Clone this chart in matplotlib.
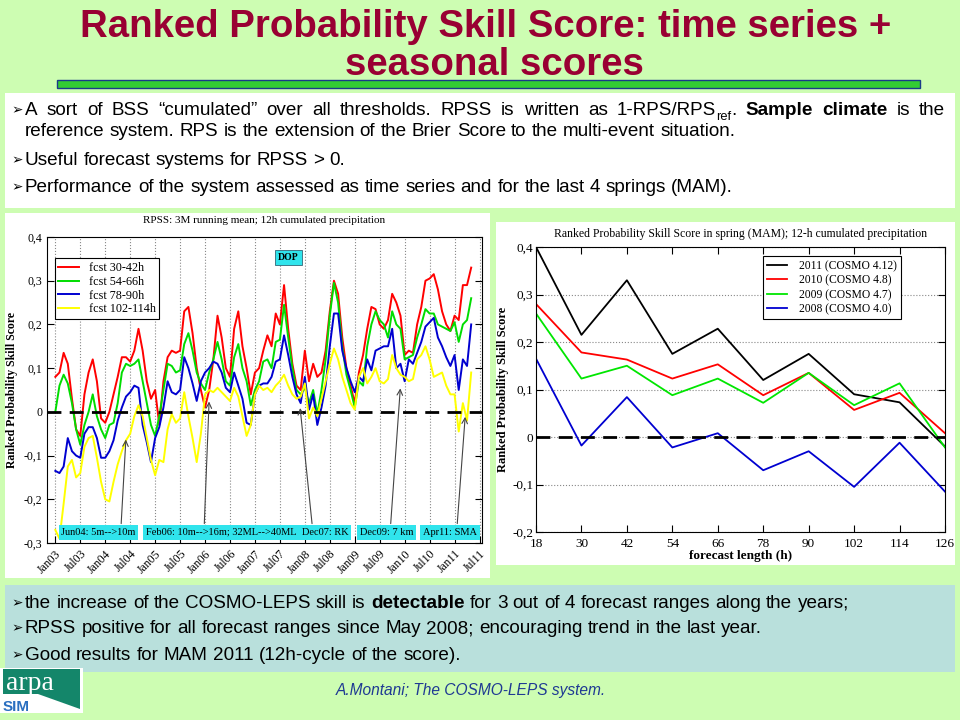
import numpy as np
import pandas as pd
import matplotlib
matplotlib.use("Agg")
import matplotlib.pyplot as plt
from matplotlib.patches import Rectangle, Polygon
from matplotlib.transforms import IdentityTransform
from matplotlib.ticker import FuncFormatter

# ---- data: left chart, RPSS 3M running mean, monthly from Jan03 ----
start_month = "2003-01-01"
red = [0.08, 0.09, 0.135, 0.11, 0.03, -0.04, -0.055, 0.04, 0.09, 0.12,
       0.07, -0.015, -0.025, 0.0, 0.04, 0.08, 0.125, 0.125, 0.115, 0.14,
       0.19, 0.14, 0.07, 0.03, 0.05, -0.03, 0.07, 0.125, 0.14, 0.135,
       0.14, 0.23, 0.24, 0.18, 0.1, 0.05, 0.01, 0.05, 0.12, 0.22,
       0.17, 0.1, 0.08, 0.19, 0.23, 0.15, 0.1, 0.04, 0.09, 0.1,
       0.14, 0.175, 0.15, 0.225, 0.2, 0.29, 0.19, 0.11, 0.06, 0.05,
       0.14, 0.07, 0.11, 0.08, 0.09, 0.14, 0.23, 0.3, 0.27, 0.17,
       0.1, 0.06, 0.02, 0.09, 0.13, 0.19, 0.24, 0.235, 0.2, 0.19,
       0.21, 0.27, 0.25, 0.22, 0.13, 0.14, 0.135, 0.2, 0.24, 0.3,
       0.305, 0.315, 0.28, 0.23, 0.2, 0.185, 0.22, 0.21, 0.29, 0.29, 0.33]
green = [0.0, 0.06, 0.085, 0.065, 0.02, -0.04, -0.075, -0.03, 0.0, 0.04,
         -0.01, -0.04, -0.06, -0.03, -0.025, 0.02, 0.09, 0.11, 0.105, 0.11,
         0.12, 0.07, 0.02, -0.03, -0.055, -0.01, 0.05, 0.11, 0.105, 0.09,
         0.095, 0.155, 0.18, 0.14, 0.09, 0.065, 0.05, 0.09, 0.12, 0.16,
         0.12, 0.07, 0.06, 0.125, 0.155, 0.1, 0.07, 0.015, 0.05, 0.07,
         0.115, 0.12, 0.1, 0.16, 0.165, 0.245, 0.17, 0.1, 0.05, 0.04,
         0.055, 0.02, 0.05, -0.005, 0.05, 0.12, 0.22, 0.295, 0.25, 0.15,
         0.085, 0.05, 0.01, 0.07, 0.06, 0.15, 0.2, 0.23, 0.21, 0.2,
         0.17, 0.23, 0.2, 0.19, 0.12, 0.125, 0.13, 0.17, 0.2, 0.235,
         0.225, 0.225, 0.2, 0.195, 0.19, 0.185, 0.205, 0.16, 0.2, 0.21, 0.26]
blue = [-0.135, -0.14, -0.125, -0.06, -0.09, -0.1, -0.105, -0.05, -0.035, -0.035,
        -0.06, -0.105, -0.105, -0.09, -0.065, -0.02, 0.01, 0.035, 0.045, 0.06,
        0.055, -0.03, -0.07, -0.115, -0.06, -0.035, 0.01, 0.07, 0.045, 0.04,
        0.05, 0.125, 0.1, 0.065, 0.025, 0.07, 0.09, 0.1, 0.115, 0.11,
        0.09, 0.055, 0.045, 0.09, 0.06, 0.03, -0.025, -0.03, 0.04, 0.06,
        0.065, 0.065, 0.08, 0.115, 0.12, 0.175, 0.13, 0.08, 0.04, 0.02,
        0.08, 0.005, 0.04, -0.03, 0.01, 0.06, 0.15, 0.225, 0.225, 0.14,
        0.1, 0.07, 0.045, 0.08, 0.07, 0.12, 0.095, 0.14, 0.145, 0.15,
        0.15, 0.19, 0.1, 0.11, 0.07, 0.12, 0.11, 0.135, 0.16, 0.195,
        0.205, 0.215, 0.17, 0.15, 0.125, 0.105, 0.13, 0.05, 0.12, 0.105, 0.2]
yellow = [-0.27, -0.29, -0.21, -0.125, -0.11, -0.15, -0.14, -0.08, -0.06, -0.055,
          -0.105, -0.16, -0.2, -0.205, -0.16, -0.12, -0.09, -0.065, -0.05, -0.01,
          0.015, -0.01, -0.06, -0.11, -0.145, -0.11, -0.115, -0.04, -0.005, -0.025,
          -0.015, 0.045, -0.01, -0.06, -0.115, -0.05, 0.04, 0.05, 0.045, 0.055,
          0.045, 0.035, 0.025, 0.055, 0.035, -0.01, -0.055, -0.03, 0.04, 0.06,
          0.05, 0.055, 0.045, 0.06, 0.07, 0.085, 0.06, 0.04, 0.03, 0.035,
          0.065, -0.015, 0.01, -0.01, 0.03, 0.07, 0.11, 0.145, 0.12, 0.08,
          0.05, 0.02, 0.005, 0.08, 0.1, 0.065, 0.08, 0.1, 0.07, 0.065,
          0.075, 0.13, 0.1, 0.085, 0.08, 0.07, 0.075, 0.12, 0.13, 0.15,
          0.12, 0.08, 0.085, 0.09, 0.06, 0.04, 0.04, -0.045, 0.02, -0.02, 0.09]
ts_labels = ["fcst 30-42h", "fcst 54-66h", "fcst 78-90h", "fcst 102-114h"]

# model changes marked on the time series
events = ["Jun04: 5m-->10m", "Feb06: 10m-->16m; 32ML-->40ML", "Dec07: RK",
          "Dec09: 7 km", "Apr11: SMA"]
event_month = [17, 37, 58.8, 83, 98.6]
event_tip = [-0.057, 0.03, 0.015, 0.06, -0.005]

# ---- data: right chart, spring (MAM) scores by forecast length ----
lead = [18, 30, 42, 54, 66, 78, 90, 102, 114, 126]
s2011 = [0.40, 0.215, 0.33, 0.175, 0.228, 0.12, 0.175, 0.09, 0.073, -0.02]
s2010 = [0.28, 0.178, 0.163, 0.123, 0.153, 0.088, 0.135, 0.057, 0.093, 0.008]
s2009 = [0.26, 0.123, 0.15, 0.088, 0.123, 0.072, 0.135, 0.067, 0.113, -0.022]
s2008 = [0.165, -0.018, 0.084, -0.022, 0.008, -0.07, -0.03, -0.105, -0.012, -0.115]
spring_labels = ["2011 (COSMO 4.12)", "2010 (COSMO 4.8)",
                 "2009 (COSMO 4.7)", "2008 (COSMO 4.0)"]

W, H = 960, 720
BG = "#cdfdb2"
SANS = ["Liberation Sans", "DejaVu Sans"]
plt.rcParams["font.family"] = ["Liberation Serif", "DejaVu Serif"]

fig = plt.figure(figsize=(9.6, 7.2), dpi=100)
fig.patch.set_facecolor(BG)
renderer = fig.canvas.get_renderer()
PX = IdentityTransform()


def box(x0, y0, x1, y1, fc, ec="none", lw=0):
    fig.add_artist(Rectangle((x0, H - y1), x1 - x0, y1 - y0, transform=PX,
                             fc=fc, ec=ec, lw=lw, zorder=0))


def put(x, y, s, size, **kw):
    return fig.text(x, H - y, s, transform=PX, fontsize=size, **kw)


def width_of(s, size, **kw):
    t = put(0, 0, s, size, **kw)
    w = t.get_window_extent(renderer).width
    t.remove()
    return w


def words(s, st=""):
    return [[(w, st)] for w in s.split()]


def text_line(x, y, toks, size, color="black", justify=None):
    # toks: list of words, each a list of (text, style) pieces
    arts = []
    for w in toks:
        pieces = []
        for s, st in w:
            sz = size * 0.68 if st == "sub" else size
            dy = size * 0.35 if st == "sub" else 0
            t = put(0, y + dy, s, sz, family=SANS, color=color,
                    weight="bold" if st == "b" else "normal")
            pieces.append((t, t.get_window_extent(renderer).width, dy))
        arts.append(pieces)
    total = sum(p[1] for w in arts for p in w)
    gap = width_of("a a", size, family=SANS) - width_of("aa", size, family=SANS)
    if justify is not None and len(arts) > 1:
        gap = (justify - x - total) / (len(arts) - 1)
    cx = x
    for w in arts:
        for t, wd, dy in w:
            t.set_position((cx, H - y - dy))
            cx += wd
        cx += gap


def bullet(x, y, size):
    put(x, y - 1, "\u27a2", size * 0.72, family=["DejaVu Sans"], color="black")


# ---- slide decoration ----
tsize = 10 * 815 / width_of("Ranked Probability Skill Score: time series +", 10,
                            family=SANS, weight="bold")
put(486, 37, "Ranked Probability Skill Score: time series +", tsize, family=SANS,
    weight="bold", color="#990033", ha="center")
put(494, 75, "seasonal scores", tsize, family=SANS, weight="bold",
    color="#990033", ha="center")
box(57, 80, 920, 88, "#33cc33", ec="#1a3a8a", lw=1)

box(5, 93, 955, 208, "white")
box(5, 213, 490, 578, "white")
box(496, 222, 955, 565, "white")
box(5, 585, 955, 672, "#b9e0dc")

bsize = 10 * 718 / width_of("reference system. RPS is the extension of the Brier "
                            "Score to the multi-event situation.", 10, family=SANS)
tx = 25
bullet(11, 115, bsize)
text_line(tx, 115, words("A sort of BSS \u201ccumulated\u201d over all thresholds. "
                         "RPSS is written as")
          + [[("1-RPS/RPS", ""), ("ref", "sub"), (".", "")]]
          + words("Sample climate", "b") + words("is the"), bsize, justify=945)
text_line(tx, 136, words("reference system. RPS is the extension of the Brier Score "
                         "to the multi-event situation."), bsize)
bullet(11, 165, bsize)
text_line(tx, 165, words("Useful forecast systems for RPSS > 0."), bsize)
bullet(11, 192, bsize)
text_line(tx, 192, words("Performance of the system assessed as time series and for "
                         "the last 4 springs (MAM)."), bsize)

bullet(11, 608, bsize)
text_line(tx, 608, words("the increase of the COSMO-LEPS skill is") + words("detectable", "b")
          + words("for 3 out of 4 forecast ranges along the years;"), bsize)
bullet(11, 633, bsize)
text_line(tx, 633, words("RPSS positive for all  forecast ranges since May 2008; "
                         "encouraging trend in the last year."), bsize)
bullet(11, 660, bsize)
text_line(tx, 660, words("Good results for MAM 2011 (12h-cycle of the score)."), bsize)

# logo and footer
box(0, 668, 83, 713, "white")
fig.add_artist(Polygon([(3, H - 669), (80, H - 669), (80, H - 709), (38, H - 694),
                        (3, H - 694)], closed=True, transform=PX, fc="#14866a",
                       ec="none", zorder=0))
put(6, 690, "arpa", 20, family=["Liberation Serif"], color="white")
put(3, 711, "SIM", 11, family=["Liberation Sans"], weight="bold", color="#2a6fc0")
fsize = 10 * 272 / width_of("A.Montani; The COSMO-LEPS system.", 10,
                            family=["Liberation Sans"], style="italic")
put(471, 695, "A.Montani; The COSMO-LEPS system.", fsize, family=["Liberation Sans"],
    style="italic", color="#1f3a93", ha="center")

comma = FuncFormatter(lambda v, p: ("%g" % round(v, 3)).replace(".", ","))

# ---- left chart: time series ----
axL = fig.add_axes([47 / W, 1 - 543 / H, (482 - 47) / W, (543 - 237) / H])
months = np.arange(len(red))
for vals, c, lab in zip([red, green, blue, yellow],
                        ["#ff0000", "#00dd00", "#0000d0", "#ffff00"], ts_labels):
    axL.plot(months, vals, color=c, lw=1.4, label=lab)
axL.axhline(0, color="black", lw=2, dashes=(5, 3), zorder=2.5)
tick_dates = pd.date_range(start_month, "2011-07-01", freq="6MS")
axL.set_xticks(np.arange(len(tick_dates)) * 6)
axL.set_xticklabels([d.strftime("%b%y") for d in tick_dates], rotation=45,
                    ha="right", va="top", rotation_mode="anchor")
axL.set_xlim(-2, 102.6)
axL.set_ylim(-0.3, 0.4)
axL.set_yticks(np.arange(-0.3, 0.41, 0.1))
axL.yaxis.set_major_formatter(comma)
axL.grid(axis="x", ls=":", color="#888888", lw=0.8)
axL.tick_params(direction="in", right=True, length=5, labelsize=8.5)
axL.set_ylabel("Ranked Probability Skill Score", fontsize=8.5, weight="bold", labelpad=4)
axL.set_title("RPSS: 3M running mean; 12h cumulated precipitation", fontsize=8, pad=10)
legL = axL.legend(loc="upper left", bbox_to_anchor=(0.018, 0.93), fontsize=8.7,
                  fancybox=False, edgecolor="black", framealpha=1, borderpad=0.3,
                  borderaxespad=0, labelspacing=0.15, handlelength=1.7,
                  handletextpad=0.8)
legL.get_frame().set_linewidth(0.8)

label_x = [10.4, 39.8, 64.9, 79.6, 94.9]
tail_x = [15.8, 35.8, 61.8, 80.6, 96.6]
for name, m, tip, lx, tx0 in zip(events, event_month, event_tip, label_x, tail_x):
    axL.annotate("", xy=(m, tip), xytext=(tx0, -0.262),
                 arrowprops=dict(arrowstyle="->", color="#444444", lw=0.8), zorder=3)
    axL.text(lx, -0.276, name, fontsize=7.5, ha="center", va="center", zorder=4,
             bbox=dict(boxstyle="square,pad=0.25", fc="#30e4ec", ec="none"))
axL.text(56.1, 0.354, "DOP", fontsize=7, weight="bold", ha="center", va="center",
         bbox=dict(boxstyle="square,pad=0.3", fc="#30e4ec", ec="#336677", lw=0.6))

# ---- right chart: spring scores ----
axR = fig.add_axes([536 / W, 1 - 532 / H, (945 - 536) / W, (532 - 247) / H])
for vals, c, lab in zip([s2011, s2010, s2009, s2008],
                        ["black", "#ff0000", "#00e600", "#0000d0"], spring_labels):
    axR.plot(lead, vals, color=c, lw=1.3, label=lab)
axR.axhline(0, color="black", lw=2, dashes=(5, 3), zorder=2.5)
axR.set_xlim(18, 126)
axR.set_ylim(-0.2, 0.4)
axR.set_xticks(lead)
axR.set_yticks(np.arange(-0.2, 0.41, 0.1))
axR.yaxis.set_major_formatter(comma)
axR.grid(axis="y", ls=":", color="#888888", lw=0.8)
axR.tick_params(direction="in", top=True, right=True, length=5, labelsize=9.5)
axR.tick_params(axis="x", pad=4)
axR.tick_params(axis="y", pad=2)
axR.set_xlabel("forecast length (h)", fontsize=9.5, weight="bold", labelpad=0)
axR.set_ylabel("Ranked Probability Skill Score", fontsize=9, weight="bold", labelpad=2)
axR.set_title("Ranked Probability Skill Score in spring (MAM); 12-h cumulated "
              "precipitation", fontsize=8.5, pad=7)
legR = axR.legend(loc="upper left", bbox_to_anchor=(0.555, 0.968), fontsize=8.4,
                  fancybox=False, edgecolor="black", framealpha=1, borderpad=0.35,
                  borderaxespad=0, labelspacing=0.2, handlelength=1.7,
                  handletextpad=1.0)
legR.get_frame().set_linewidth(0.8)

fig.savefig("out.png", dpi=100, facecolor=BG)
